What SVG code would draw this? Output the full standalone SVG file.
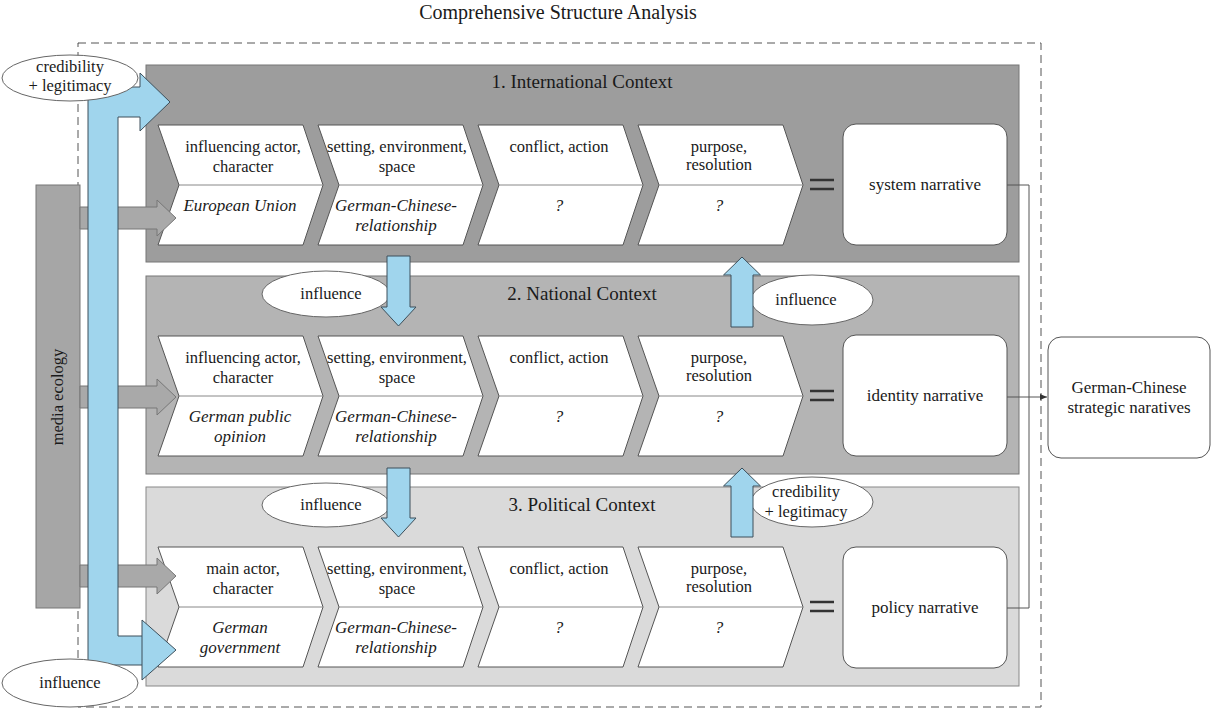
<svg xmlns="http://www.w3.org/2000/svg" width="1212" height="709" viewBox="0 0 1212 709">
<defs>
<style>
text{font-family:"Liberation Serif","Times New Roman",serif;fill:#1a1a1a;text-anchor:middle}
.h{font-size:20px}
.t{font-size:19px}
.c{font-size:16.5px}
.i{font-size:17px;font-style:italic}
.n{font-size:17px}
.p1{fill:#9d9d9d;stroke:#777;stroke-width:1}
.p2{fill:#b4b4b4;stroke:#777;stroke-width:1}
.p3{fill:#dadada;stroke:#888;stroke-width:1}
.chev{fill:#fff;stroke:#555;stroke-width:1}
.div{stroke:#888;stroke-width:1}
.eq{stroke:#333;stroke-width:2.5}
.box{fill:#fff;stroke:#555;stroke-width:1}
.ell{fill:#fff;stroke:#666;stroke-width:1}
.blue{fill:#a0d5ed;stroke:#3d4f5a;stroke-width:1}
.garrow{fill:#a9a9a9;stroke:#777;stroke-width:1}
.conn{fill:none;stroke:#555;stroke-width:1}
</style>
<marker id="ah" markerWidth="8" markerHeight="8" refX="7" refY="4" orient="auto" markerUnits="userSpaceOnUse">
<path d="M0,1 L7,4 L0,7 Z" fill="#333"/>
</marker>
</defs>
<rect width="1212" height="709" fill="#fff"/>
<text class="h" x="558" y="19">Comprehensive Structure Analysis</text>
<rect x="78" y="43" width="963" height="664" fill="none" stroke="#555" stroke-width="1" stroke-dasharray="8 5"/>

<g id="panel1">
<rect class="p1" x="146" y="65" width="873" height="197"/>
<text class="t" x="582" y="88">1. International Context</text>
</g>
<g id="panel2">
<rect class="p2" x="146" y="276" width="873" height="198"/>
<text class="t" x="582" y="300">2. National Context</text>
</g>
<g id="panel3">
<rect class="p3" x="146" y="487" width="873" height="199"/>
<text class="t" x="582" y="511">3. Political Context</text>
</g>

<!-- Row 1 chevrons -->
<g id="r1c1"><path class="chev" d="M158,125 H303 L323,185 L303,245 H158 L179,185 Z"/><line class="div" x1="179" y1="185" x2="323" y2="185"/>
<text class="c" x="243" y="152">influencing actor,</text><text class="c" x="243" y="172">character</text><text class="i" x="240" y="211">European Union</text></g>
<g id="r1c2"><path class="chev" d="M318,125 H463 L483,185 L463,245 H318 L339,185 Z"/><line class="div" x1="339" y1="185" x2="483" y2="185"/>
<text class="c" x="397" y="152">setting, environment,</text><text class="c" x="397" y="172">space</text><text class="i" x="396" y="211">German-Chinese-</text><text class="i" x="396" y="231">relationship</text></g>
<g id="r1c3"><path class="chev" d="M478,125 H623 L643,185 L623,245 H478 L499,185 Z"/><line class="div" x1="499" y1="185" x2="643" y2="185"/>
<text class="c" x="559" y="152">conflict, action</text><text class="i" x="559" y="211">?</text></g>
<g id="r1c4"><path class="chev" d="M638,125 H783 L803,185 L783,245 H638 L659,185 Z"/><line class="div" x1="659" y1="185" x2="803" y2="185"/>
<text class="c" x="719" y="152">purpose,</text><text class="c" x="719" y="170">resolution</text><text class="i" x="719" y="211">?</text></g>
<g id="eq1"><line class="eq" x1="810" y1="180" x2="834" y2="180"/><line class="eq" x1="810" y1="189" x2="834" y2="189"/></g>
<g id="system"><rect class="box" x="843" y="124" width="164" height="121" rx="13"/><text class="n" x="925" y="190">system narrative</text></g>

<!-- Row 2 chevrons -->
<g id="r2c1"><path class="chev" d="M158,336 H303 L323,396 L303,456 H158 L179,396 Z"/><line class="div" x1="179" y1="396" x2="323" y2="396"/>
<text class="c" x="243" y="363">influencing actor,</text><text class="c" x="243" y="383">character</text><text class="i" x="240" y="422">German public</text><text class="i" x="240" y="442">opinion</text></g>
<g id="r2c2"><path class="chev" d="M318,336 H463 L483,396 L463,456 H318 L339,396 Z"/><line class="div" x1="339" y1="396" x2="483" y2="396"/>
<text class="c" x="397" y="363">setting, environment,</text><text class="c" x="397" y="383">space</text><text class="i" x="396" y="422">German-Chinese-</text><text class="i" x="396" y="442">relationship</text></g>
<g id="r2c3"><path class="chev" d="M478,336 H623 L643,396 L623,456 H478 L499,396 Z"/><line class="div" x1="499" y1="396" x2="643" y2="396"/>
<text class="c" x="559" y="363">conflict, action</text><text class="i" x="559" y="422">?</text></g>
<g id="r2c4"><path class="chev" d="M638,336 H783 L803,396 L783,456 H638 L659,396 Z"/><line class="div" x1="659" y1="396" x2="803" y2="396"/>
<text class="c" x="719" y="363">purpose,</text><text class="c" x="719" y="381">resolution</text><text class="i" x="719" y="422">?</text></g>
<g id="eq2"><line class="eq" x1="810" y1="391" x2="834" y2="391"/><line class="eq" x1="810" y1="400" x2="834" y2="400"/></g>
<g id="identity"><rect class="box" x="843" y="335" width="164" height="121" rx="13"/><text class="n" x="925" y="401">identity narrative</text></g>

<!-- Row 3 chevrons -->
<g id="r3c1"><path class="chev" d="M158,547 H303 L323,607 L303,667 H158 L179,607 Z"/><line class="div" x1="179" y1="607" x2="323" y2="607"/>
<text class="c" x="243" y="574">main actor,</text><text class="c" x="243" y="594">character</text><text class="i" x="240" y="633">German</text><text class="i" x="240" y="653">government</text></g>
<g id="r3c2"><path class="chev" d="M318,547 H463 L483,607 L463,667 H318 L339,607 Z"/><line class="div" x1="339" y1="607" x2="483" y2="607"/>
<text class="c" x="397" y="574">setting, environment,</text><text class="c" x="397" y="594">space</text><text class="i" x="396" y="633">German-Chinese-</text><text class="i" x="396" y="653">relationship</text></g>
<g id="r3c3"><path class="chev" d="M478,547 H623 L643,607 L623,667 H478 L499,607 Z"/><line class="div" x1="499" y1="607" x2="643" y2="607"/>
<text class="c" x="559" y="574">conflict, action</text><text class="i" x="559" y="633">?</text></g>
<g id="r3c4"><path class="chev" d="M638,547 H783 L803,607 L783,667 H638 L659,607 Z"/><line class="div" x1="659" y1="607" x2="803" y2="607"/>
<text class="c" x="719" y="574">purpose,</text><text class="c" x="719" y="592">resolution</text><text class="i" x="719" y="633">?</text></g>
<g id="eq3"><line class="eq" x1="810" y1="602" x2="834" y2="602"/><line class="eq" x1="810" y1="611" x2="834" y2="611"/></g>
<g id="policy"><rect class="box" x="843" y="547" width="164" height="121" rx="13"/><text class="n" x="925" y="613">policy narrative</text></g>

<g id="strategic"><rect class="box" x="1048" y="337" width="162" height="121" rx="13"/><text class="n" x="1129" y="393">German-Chinese</text><text class="n" x="1129" y="413">strategic naratives</text></g>

<g id="connectors">
<polyline class="conn" points="1007,185 1029,185 1029,608 1007,608"/>
<line class="conn" x1="1007" y1="397" x2="1047" y2="397" marker-end="url(#ah)"/>
</g>

<g id="media-ecology">
<rect x="36" y="185" width="44" height="423" fill="#a6a6a6" stroke="#777" stroke-width="1"/>
<text class="c" transform="translate(63,397) rotate(-90)">media ecology</text>
<path class="garrow" d="M80,207 H157 V200 L176,218 L157,236 V229 H80 Z"/>
<path class="garrow" d="M80,386 H157 V379 L176,397 L157,415 V408 H80 Z"/>
<path class="garrow" d="M80,565 H157 V558 L176,576 L157,594 V587 H80 Z"/>
</g>

<g id="blue-bracket">
<path class="blue" d="M88,87 H140 V73 L170,102 L140,131 V117 H118 V636 H142 V620 L176,650 L142,680 V665 H88 Z"/>
<line x1="142" y1="636" x2="142" y2="665" stroke="#3d4f5a" stroke-width="1"/>
</g>

<g id="ell-cred-top"><ellipse class="ell" cx="70" cy="78" rx="68" ry="23"/><text class="c" x="70" y="72">credibility</text><text class="c" x="70" y="91">+ legitimacy</text></g>
<g id="ell-infl-bottom"><ellipse class="ell" cx="70" cy="683" rx="68" ry="24"/><text class="c" x="70" y="688">influence</text></g>

<g id="ell-infl-12"><ellipse class="ell" cx="326" cy="294" rx="64" ry="23"/><text class="c" x="331" y="299">influence</text></g>
<g id="ell-infl-23"><ellipse class="ell" cx="326" cy="505" rx="64" ry="22"/><text class="c" x="331" y="510">influence</text></g>
<g id="ell-infl-r12"><ellipse class="ell" cx="812" cy="300" rx="61" ry="25"/><text class="c" x="806" y="305">influence</text></g>
<g id="ell-cred-r23"><ellipse class="ell" cx="812" cy="502" rx="61" ry="25"/><text class="c" x="806" y="497">credibility</text><text class="c" x="806" y="517">+ legitimacy</text></g>

<g id="blue-arrows">
<path class="blue" d="M387,256 H410 V307 H416 L398.5,326 L381,307 H387 Z"/>
<path class="blue" d="M387,468 H410 V518 H416 L398.5,537 L381,518 H387 Z"/>
<path class="blue" d="M731,327 V275 H723.5 L742,257 L760.5,275 H753 V327 Z"/>
<path class="blue" d="M731,537 V486 H723.5 L742,468 L760.5,486 H753 V537 Z"/>
</g>
</svg>
